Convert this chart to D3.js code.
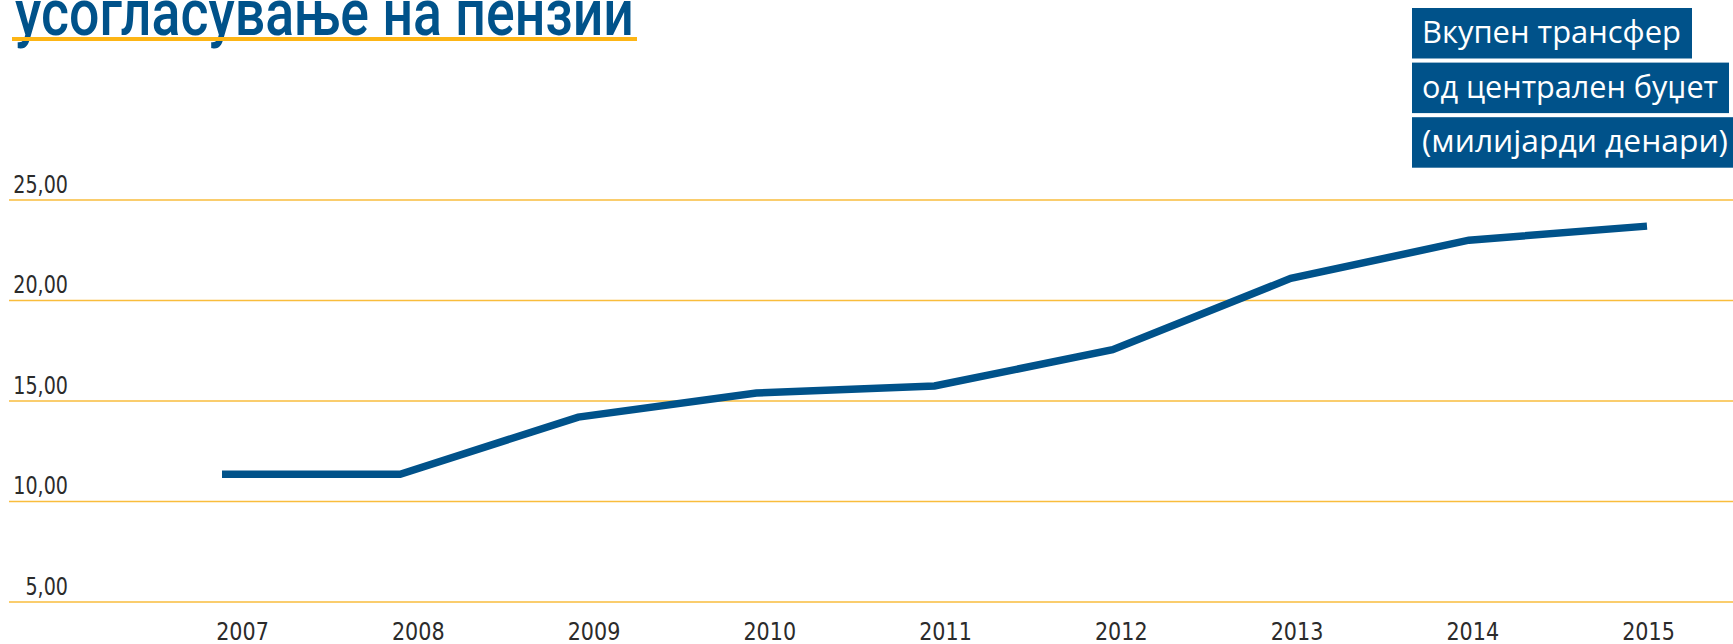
<!DOCTYPE html>
<html>
<head>
<meta charset="utf-8">
<script src="https://cdn.jsdelivr.net/npm/d3@7"></script>
<style>
  body { margin: 0; background: #fff; }
  svg { display: block; }
</style>
</head>
<body>
<script>
// chart data
const years = ["2007", "2008", "2009", "2010", "2011", "2012", "2013", "2014", "2015"];
const transfer = [11.35, 11.35, 14.2, 15.4, 15.75, 17.55, 21.1, 23.0, 23.7];
const yTicks = [5, 10, 15, 20, 25];
const titleText = "усогласување на пензии";
const legendLines = ["Вкупен трансфер", "од централен буџет", "(милијарди денари)"];

const width = 1733;
const height = 644;
const blue = "#00528a";
const orange = "#fdb515";
const narrow = "'Liberation Sans Narrow', 'DejaVu Sans Condensed', 'Roboto', sans-serif";

const svg = d3.select("body").append("svg")
    .attr("width", width)
    .attr("height", height);

// scales
const y = d3.scaleLinear().domain([5, 25]).range([602, 200]);
const xLine = d3.scalePoint().domain(years).range([222, 1647]);
const xLabel = d3.scalePoint().domain(years).range([242, 1648]);
const fmt = v => d3.format(".2f")(v).replace(".", ",");

// squeeze text so it looks like the condensed face of the original
function condense(sel, factor) {
  sel.each(function() {
    const w = this.getComputedTextLength();
    d3.select(this)
        .attr("textLength", w * factor)
        .attr("lengthAdjust", "spacingAndGlyphs");
  });
}

// title (cut off at the top like the original)
svg.append("text")
    .attr("x", 15)
    .attr("y", 35)
    .attr("font-family", "Roboto, 'Noto Sans', sans-serif")
    .attr("font-weight", 500)
    .attr("font-size", 64)
    .attr("fill", blue)
    .attr("textLength", 619)
    .attr("lengthAdjust", "spacingAndGlyphs")
    .text(titleText);

svg.append("rect")
    .attr("x", 12)
    .attr("y", 37)
    .attr("width", 625)
    .attr("height", 4)
    .attr("fill", orange);

// gridlines
svg.append("g")
  .selectAll("line")
  .data(yTicks)
  .join("line")
    .attr("x1", 9)
    .attr("x2", width)
    .attr("y1", d => y(d))
    .attr("y2", d => y(d))
    .attr("stroke", "#f9bd3c")
    .attr("stroke-width", 1.3);

// y axis labels
const yAxis = svg.append("g")
    .attr("transform", "translate(68,0)")
    .call(d3.axisLeft(y).tickValues(yTicks).tickSize(0).tickPadding(0).tickFormat(fmt));
yAxis.select(".domain").remove();
yAxis.selectAll("text")
    .attr("dy", null)
    .attr("y", -8)
    .attr("font-family", narrow)
    .attr("font-size", 25)
    .attr("fill", "#2b2b2b")
    .call(condense, 0.85);

// x axis labels
const xAxis = svg.append("g")
    .attr("transform", "translate(0,640)")
    .call(d3.axisBottom(xLabel).tickSize(0).tickPadding(0));
xAxis.select(".domain").remove();
xAxis.selectAll("text")
    .attr("dy", null)
    .attr("y", 0)
    .attr("font-family", narrow)
    .attr("font-size", 25)
    .attr("fill", "#2b2b2b")
    .call(condense, 0.92);

// the line
const line = d3.line()
    .x((d, i) => xLine(years[i]))
    .y(d => y(d));

svg.append("path")
    .datum(transfer)
    .attr("d", line)
    .attr("fill", "none")
    .attr("stroke", blue)
    .attr("stroke-width", 7.5)
    .attr("stroke-linejoin", "miter")
    .attr("stroke-linecap", "butt");

// legend boxes, one per line of text
const legendWidths = [259, 296, 306];
const legend = svg.append("g").attr("transform", "translate(1412,0)");
legendLines.forEach((t, i) => {
  const top = 8 + i * 54.6;
  legend.append("rect")
      .attr("x", 0)
      .attr("y", top)
      .attr("width", legendWidths[i] + 21)
      .attr("height", 50.5)
      .attr("fill", blue);
  legend.append("text")
      .attr("x", 10)
      .attr("y", top + 35)
      .attr("font-family", "'Open Sans', 'Noto Sans', sans-serif")
      .attr("font-size", 31)
      .attr("fill", "#fff")
      .attr("textLength", legendWidths[i])
      .attr("lengthAdjust", "spacingAndGlyphs")
      .text(t);
});
</script>
</body>
</html>
